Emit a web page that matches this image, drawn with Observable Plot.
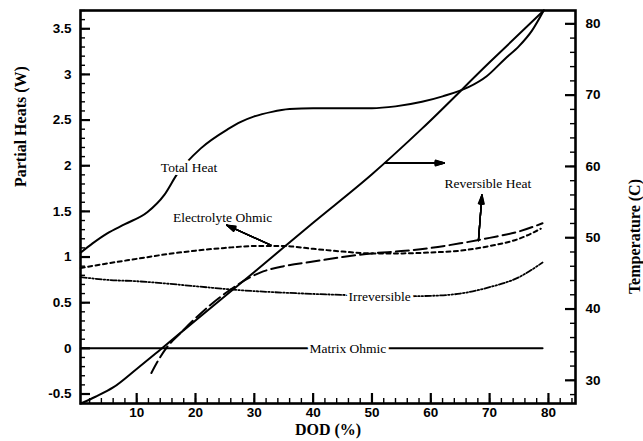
<!DOCTYPE html>
<html>
<head>
<meta charset="utf-8">
<script src="https://cdn.jsdelivr.net/npm/d3@7"></script>
<script src="https://cdn.jsdelivr.net/npm/@observablehq/plot@0.6"></script>
<style>
  html, body { margin: 0; padding: 0; background: #fff; }
  #chart svg { display: block; }
</style>
</head>
<body>
<div id="chart"></div>
<script>
// ---------- data ----------
const totalHeatDod = [0.5, 2.5, 5, 8, 11.8, 14.7, 16.9, 20.9, 25.5, 27.7, 30, 33, 36, 40, 45, 50, 54, 58.5, 62, 66.4, 69.5, 72.6, 75, 77.2, 79.2];
const totalHeat    = [1.05, 1.15, 1.26, 1.36, 1.49, 1.68, 1.91, 2.19, 2.40, 2.48, 2.54, 2.59, 2.62, 2.63, 2.63, 2.63, 2.65, 2.70, 2.76, 2.86, 2.98, 3.17, 3.31, 3.48, 3.70];

const electrolyteDod = [0.5, 5, 10, 15, 20, 25, 30, 35, 40, 45, 50, 55, 60, 65, 70, 75, 78.7];
const electrolyte    = [0.88, 0.93, 0.98, 1.03, 1.07, 1.10, 1.12, 1.12, 1.09, 1.06, 1.04, 1.04, 1.05, 1.07, 1.12, 1.20, 1.31];

const reversibleDod = [12.5, 13.5, 15, 17.5, 20, 25, 31, 35, 40, 45, 50, 55, 60, 65, 70, 75, 79];
const reversible    = [-0.27, -0.15, 0.0, 0.17, 0.33, 0.60, 0.83, 0.90, 0.95, 1.00, 1.04, 1.065, 1.10, 1.15, 1.21, 1.28, 1.37];

const irreversibleDod = [0.5, 5, 10, 15, 20, 28, 35, 45, 55, 60, 65, 70, 75, 79];
const irreversible    = [0.78, 0.75, 0.735, 0.71, 0.68, 0.635, 0.61, 0.585, 0.57, 0.575, 0.60, 0.67, 0.78, 0.94];

const matrixDod = [0.5, 79];
const matrix    = [0, 0];

const temperatureDod = [0.5, 3, 6, 10, 14, 20, 30, 40, 50, 58.5, 70, 79.2];
const temperature    = [26.75, 27.7, 29.0, 31.6, 34.3, 38.4, 45.2, 52.1, 58.9, 65.3, 74.6, 81.87];

// axes
const xDomain = [0.45, 84.6];
const yDomain = [-0.604, 3.70];
const tDomain = [26.75, 81.87];
const xTicks = [10, 20, 30, 40, 50, 60, 70, 80];
const xMinor = d3.range(2, 85, 2);
const yTicks = [-0.5, 0, 0.5, 1, 1.5, 2, 2.5, 3, 3.5];
const yTickLabels = ["-0.5", "0", "0.5", "1", "1.5", "2", "2.5", "3", "3.5"];
const yMinor = d3.range(-6, 38, 1).map(d => d / 10);
const tTicks = [30, 40, 50, 60, 70, 80];
const tMinor = d3.range(28, 82, 2);

// annotations
const labelText = ["Electrolyte Ohmic", "Reversible Heat"];
const labelX = [24.6, 69.7];
const labelY = [1.43, 1.80];
const haloText = ["Total Heat", "Irreversible", "Matrix Ohmic"];
const haloX = [18.9, 51.3, 45.9];
const haloY = [1.98, 0.565, 0.0];
const arrowX1 = [32.8, 52.2, 68.1];
const arrowY1 = [1.13, 2.03, 1.18];
const arrowX2 = [25.3, 62.3, 68.7];
const arrowY2 = [1.35, 2.03, 1.68];
const headAngles = [36, 28, 20, 13, 7];

// ---------- helpers ----------
const toV = t => yDomain[0] + (t - tDomain[0]) / (tDomain[1] - tDomain[0]) * (yDomain[1] - yDomain[0]);
const zip = (xs, ys) => xs.map((x, i) => ({x, y: ys[i]}));

const W = 643, H = 441;
const mL = 80, mR = 68, mT = 10, mB = 38;
const innerW = W - mL - mR, innerH = H - mT - mB;

const serif = "'Liberation Serif', 'Times New Roman', serif";
const sans = "'Liberation Sans', Arial, Helvetica, sans-serif";

const lineStyle = {x: "x", y: "y", stroke: "black", strokeWidth: 2, curve: "monotone-x"};
const arrowIdx = arrowX1.map((d, i) => i);

const chart = Plot.plot({
  width: W, height: H,
  marginLeft: mL, marginRight: mR, marginTop: mT, marginBottom: mB,
  x: {domain: xDomain},
  y: {domain: yDomain},
  style: {background: "white", color: "black"},
  marks: [
    // curves
    Plot.line(zip(totalHeatDod, totalHeat), lineStyle),
    Plot.line(zip(electrolyteDod, electrolyte), {...lineStyle, strokeDasharray: "4,3.5"}),
    Plot.line(zip(reversibleDod, reversible), {...lineStyle, strokeDasharray: "13,5"}),
    Plot.line(zip(irreversibleDod, irreversible), {...lineStyle, strokeWidth: 1.8, strokeDasharray: "6,2,1.5,2,1.5,2"}),
    Plot.line(zip(matrixDod, matrix), lineStyle),
    Plot.line(zip(temperatureDod, temperature.map(toV)), lineStyle),
    // arrows (layered heads give a filled arrowhead)
    ...headAngles.map(a => Plot.arrow(arrowIdx, {
      x1: i => arrowX1[i], y1: i => arrowY1[i], x2: i => arrowX2[i], y2: i => arrowY2[i],
      stroke: "black", strokeWidth: 1.4, headLength: 10, headAngle: a
    })),
    // labels
    Plot.text(labelText, {x: (d, i) => labelX[i], y: (d, i) => labelY[i], text: d => d,
      fontFamily: serif, fontSize: 13.5, fill: "black"}),
    Plot.text(haloText, {x: (d, i) => haloX[i], y: (d, i) => haloY[i], text: d => d,
      fontFamily: serif, fontSize: 13.5, fill: "black", stroke: "white", strokeWidth: 6}),
    // ticks (inward)
    Plot.ruleY(yTicks, {y: d => d, insetRight: innerW - 10, strokeWidth: 2.2}),
    Plot.ruleY(yMinor, {y: d => d, insetRight: innerW - 5, strokeWidth: 1.4}),
    Plot.ruleX(xTicks, {x: d => d, insetTop: innerH - 10, strokeWidth: 2.2}),
    Plot.ruleX(xMinor, {x: d => d, insetTop: innerH - 5, strokeWidth: 1.4}),
    Plot.ruleY(tTicks.map(toV), {y: d => d, insetLeft: innerW - 10, strokeWidth: 2.2}),
    Plot.ruleY(tMinor.map(toV), {y: d => d, insetLeft: innerW - 5, strokeWidth: 1.4}),
    // axes (labels only)
    Plot.axisY(yTicks, {anchor: "left", tickSize: 0, tickPadding: 9, label: null,
      tickFormat: (d, i) => yTickLabels[i], fontFamily: sans, fontSize: 13.5, fontWeight: "bold"}),
    Plot.axisX(xTicks, {anchor: "bottom", tickSize: 0, tickPadding: 4, label: null,
      tickFormat: d => String(d), fontFamily: sans, fontSize: 13.5, fontWeight: "bold"}),
    Plot.axisY(tTicks.map(toV), {anchor: "right", tickSize: 0, tickPadding: 10, label: null,
      tickFormat: (d, i) => String(tTicks[i]), fontFamily: sans, fontSize: 13.5, fontWeight: "bold"}),
    // axis titles
    Plot.text(["Partial Heats (W)"], {frameAnchor: "left", dx: -60, dy: -20, rotate: -90,
      fontFamily: serif, fontWeight: "bold", fontSize: 16, fill: "black"}),
    Plot.text(["Temperature (C)"], {frameAnchor: "right", dx: 59, dy: -28, rotate: -90,
      fontFamily: serif, fontWeight: "bold", fontSize: 16, fill: "black"}),
    Plot.text(["DOD (%)"], {frameAnchor: "bottom", dy: 31,
      fontFamily: serif, fontWeight: "bold", fontSize: 16, fill: "black"}),
    // frame
    Plot.frame({stroke: "black", strokeWidth: 2.6})
  ]
});
document.getElementById("chart").appendChild(chart);
</script>
</body>
</html>
